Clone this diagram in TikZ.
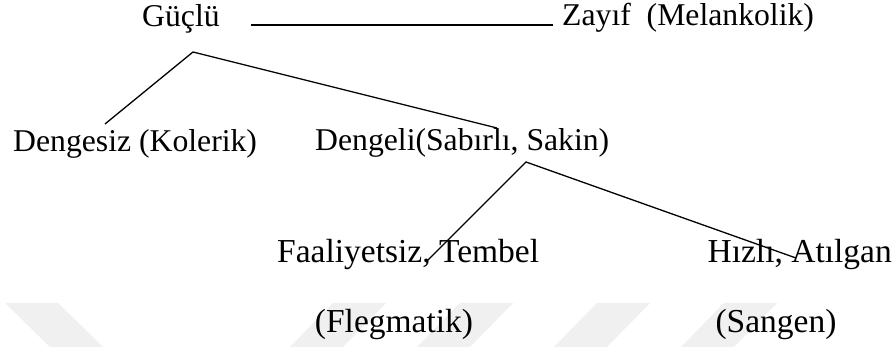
\documentclass[tikz,border=0pt]{standalone}
\usepackage{fontspec}
\setmainfont{Liberation Serif}
\begin{document}
\begin{tikzpicture}[x=1pt,y=-1pt,
  lbl/.style={inner sep=0pt, font=\fontsize{31.7}{38}\selectfont, anchor=base west},
  lblb/.style={inner sep=0pt, font=\fontsize{33.5}{40}\selectfont, anchor=base west},
  conn/.style={line width=1.3pt, black},
  wm/.style={fill=black!6, draw=none}]
\useasboundingbox[fill=white] (0,0) rectangle (894,347);
% watermark stripes
\fill[wm] (5,303) -- (58,303) -- (103,347) -- (50,347) -- cycle;
\fill[wm] (333,303) -- (386,303) -- (343,347) -- (290,347) -- cycle;
\fill[wm] (460,303) -- (513,303) -- (470,347) -- (417,347) -- cycle;
\fill[wm] (597,303) -- (650,303) -- (607,347) -- (554,347) -- cycle;
\fill[wm] (724,303) -- (777,303) -- (734,347) -- (681,347) -- cycle;
% labels
\node[lbl] (g) at (142,27) {Güçlü};
\node[lbl] (z) at (562,26) {Zayıf\ \ (Melankolik)};
\node[lbl] (dz) at (13,152) {Dengesiz (Kolerik)};
\node[lbl] (dl) at (315,151) {Dengeli(Sabırlı, Sakin)};
\node[lblb] (fa) at (277,263) {Faaliyetsiz, Tembel};
\node[lblb, anchor=base east] (hz) at (892,263) {Hızlı, Atılgan};
\node[lblb, anchor=base] (fl) at (394,332) {(Flegmatik)};
\node[lblb, anchor=base] (sg) at (776,332) {(Sangen)};
% connector points
\coordinate (h1) at (251,25);
\coordinate (h2) at (553,25);
\coordinate (a1) at (193,52);
\coordinate (e1) at (105,124);
\coordinate (e2) at (497,128);
\coordinate (a2) at (526,162);
\coordinate (e3) at (428,260);
\coordinate (e4) at (796,258);
% connectors
\draw[conn] (h1) -- (h2);
\draw[conn] (e1) -- (a1) -- (e2);
\draw[conn] (e3) -- (a2) -- (e4);
\end{tikzpicture}
\end{document}
